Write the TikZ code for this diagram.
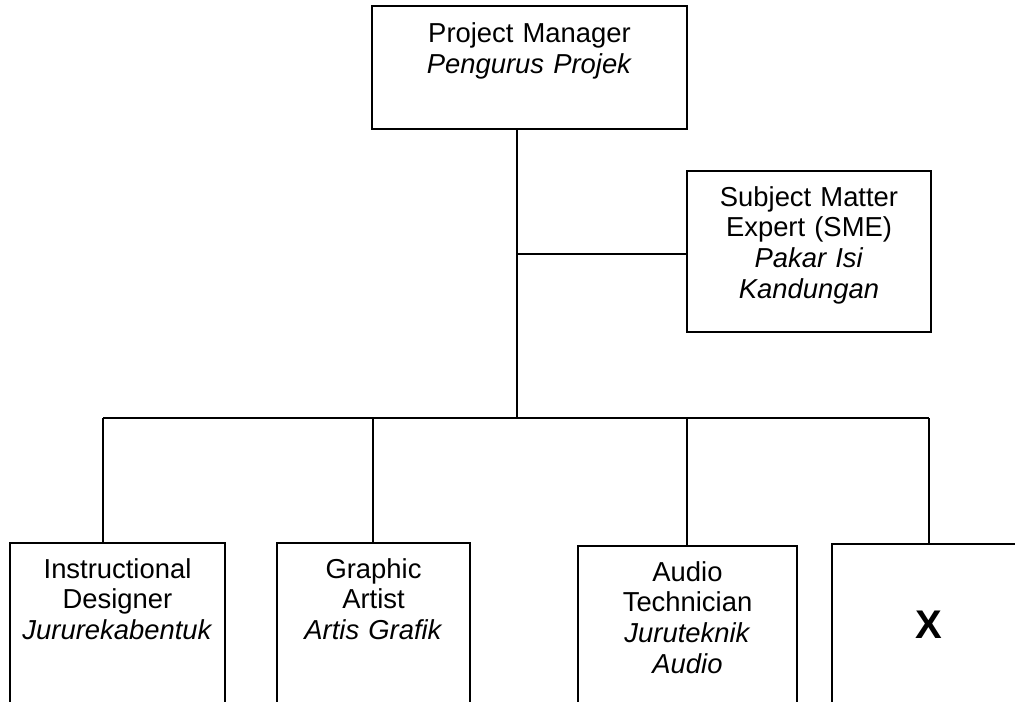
\documentclass[tikz,border=0pt]{standalone}
\usepackage{fontspec}
\setmainfont{Liberation Sans}
\usepackage{tikz}

\newcommand{\postfont}{\fontsize{13.7}{15.4}\selectfont}

\begin{document}
\begin{tikzpicture}[x=0.5pt,y=-0.5pt]
	\useasboundingbox (0,0) rectangle (1015,701);
	\clip (0,0) rectangle (1015,701);
	\begin{scope}[every node/.style={draw,line width=1pt,anchor=north,align=center,inner sep=0pt,text height=17.5pt,font=\postfont}]
		\node[text width=157.5pt,text height=18.5pt,text depth=43pt] (pm) at (529.5,5) {Project Manager\\\textit{Pengurus Projek}};
		\node[text width=122pt,text depth=63pt] (sme) at (809,170) {Subject Matter\\Expert (SME)\\\textit{Pakar Isi}\\\textit{Kandungan}};
		\node[text width=107.5pt,text depth=80pt] (id) at (117.5,542) {Instructional\\Designer\\\textit{Jururekabentuk}};
		\node[text width=96.5pt,text depth=80pt] (ga) at (373.5,542) {Graphic\\Artist\\\textit{Artis Grafik}};
		\node[text width=109.5pt,text depth=80pt] (at) at (687.5,545) {Audio\\Technician\\\textit{Juruteknik}\\\textit{Audio}};
		\node[text width=97pt,text height=47pt,text depth=40pt,font=\fontsize{20}{24}\selectfont\bfseries] (xx) at (929,543) {X};
	\end{scope}

	\coordinate (hub) at (517,418);
	\coordinate (smejoin) at (517,254);
	\coordinate (d1) at (103,418);
	\coordinate (d2) at (373,418);
	\coordinate (d3) at (687,418);
	\coordinate (d4) at (929,418);

	\begin{scope}[every edge/.style={draw=black,line width=0.8pt}]
		\path (pm.south -| hub) edge (hub);
		\path (smejoin) edge (smejoin -| sme.west);
		\path (d1) edge (d4);
		\path (d1) edge (d1 |- id.north);
		\path (d2) edge (d2 |- ga.north);
		\path (d3) edge (d3 |- at.north);
		\path (d4) edge (d4 |- xx.north);
	\end{scope}
\end{tikzpicture}
\end{document}
